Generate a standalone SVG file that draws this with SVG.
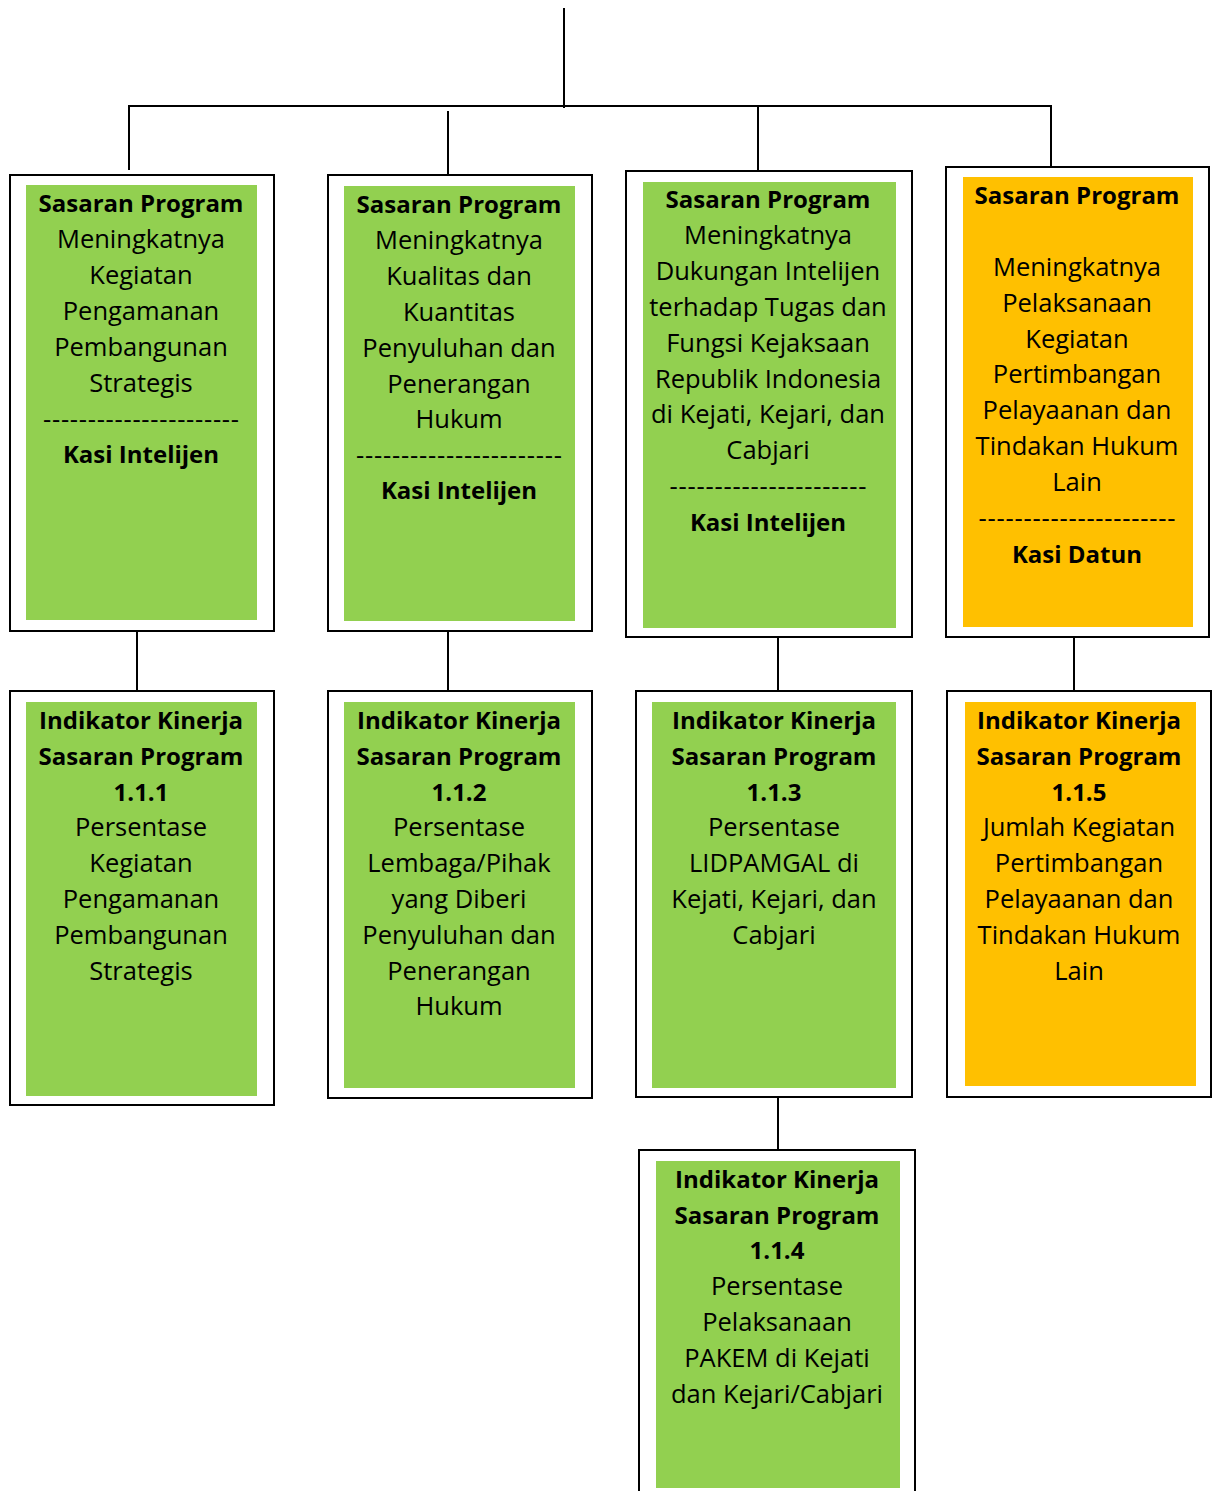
<svg xmlns="http://www.w3.org/2000/svg" width="1212" height="1491" viewBox="0 0 1212 1491">
<style>
.outer{fill:#fff;stroke:#000;stroke-width:2}
.g{fill:#92D050}
.o{fill:#FFC000}
text{font-family:"Open Sans","Noto Sans",sans-serif;font-size:25.5px;fill:#000;text-anchor:middle}
.b{font-weight:bold;font-size:24px}
.conn line{stroke:#000;stroke-width:2}
</style>
<g class="conn" id="connectors">
<line x1="564" y1="8" x2="564" y2="108"/>
<line x1="128" y1="106" x2="1052" y2="106"/>
<line x1="129" y1="106" x2="129" y2="170"/>
<line x1="448" y1="111" x2="448" y2="175"/>
<line x1="758" y1="106" x2="758" y2="171"/>
<line x1="1051" y1="106" x2="1051" y2="166"/>
<line x1="137" y1="631" x2="137" y2="698"/>
<line x1="448" y1="631" x2="448" y2="698"/>
<line x1="778" y1="631" x2="778" y2="698"/>
<line x1="1074" y1="632" x2="1074" y2="699"/>
<line x1="778" y1="1097" x2="778" y2="1150"/>
</g>
<g id="sp1">
<rect class="outer" x="10" y="175" width="264" height="456"/>
<rect class="g" x="26" y="185" width="231" height="435"/>
<text x="141" y="212" class="b">Sasaran Program</text>
<text x="141" y="248">Meningkatnya</text>
<text x="141" y="284">Kegiatan</text>
<text x="141" y="320">Pengamanan</text>
<text x="141" y="356">Pembangunan</text>
<text x="141" y="392">Strategis</text>
<text x="141" y="428" textLength="196" lengthAdjust="spacing">----------------------</text>
<text x="141" y="463" class="b">Kasi Intelijen</text>
</g>
<g id="sp2">
<rect class="outer" x="328" y="175" width="264" height="456"/>
<rect class="g" x="344" y="186" width="231" height="435"/>
<text x="459" y="213" class="b">Sasaran Program</text>
<text x="459" y="249">Meningkatnya</text>
<text x="459" y="285">Kualitas dan</text>
<text x="459" y="321">Kuantitas</text>
<text x="459" y="357">Penyuluhan dan</text>
<text x="459" y="393">Penerangan</text>
<text x="459" y="428">Hukum</text>
<text x="459" y="464" textLength="206" lengthAdjust="spacing">-----------------------</text>
<text x="459" y="499" class="b">Kasi Intelijen</text>
</g>
<g id="sp3">
<rect class="outer" x="626" y="171" width="286" height="466"/>
<rect class="g" x="643" y="182" width="253" height="446"/>
<text x="768" y="208" class="b">Sasaran Program</text>
<text x="768" y="244">Meningkatnya</text>
<text x="768" y="280">Dukungan Intelijen</text>
<text x="768" y="316">terhadap Tugas dan</text>
<text x="768" y="352">Fungsi Kejaksaan</text>
<text x="768" y="388">Republik Indonesia</text>
<text x="768" y="423">di Kejati, Kejari, dan</text>
<text x="768" y="459">Cabjari</text>
<text x="768" y="495" textLength="197" lengthAdjust="spacing">----------------------</text>
<text x="768" y="531" class="b">Kasi Intelijen</text>
</g>
<g id="sp4">
<rect class="outer" x="946" y="167" width="263" height="470"/>
<rect class="o" x="963" y="177" width="230" height="450"/>
<text x="1077" y="204" class="b">Sasaran Program</text>
<text x="1077" y="276">Meningkatnya</text>
<text x="1077" y="312">Pelaksanaan</text>
<text x="1077" y="348">Kegiatan</text>
<text x="1077" y="383">Pertimbangan</text>
<text x="1077" y="419">Pelayaanan dan</text>
<text x="1077" y="455">Tindakan Hukum</text>
<text x="1077" y="491">Lain</text>
<text x="1077" y="527" textLength="197" lengthAdjust="spacing">----------------------</text>
<text x="1077" y="563" class="b">Kasi Datun</text>
</g>
<g id="ik111">
<rect class="outer" x="10" y="691" width="264" height="414"/>
<rect class="g" x="26" y="702" width="231" height="394"/>
<text x="141" y="729" class="b">Indikator Kinerja</text>
<text x="141" y="765" class="b">Sasaran Program</text>
<text x="141" y="801" class="b">1.1.1</text>
<text x="141" y="836">Persentase</text>
<text x="141" y="872">Kegiatan</text>
<text x="141" y="908">Pengamanan</text>
<text x="141" y="944">Pembangunan</text>
<text x="141" y="980">Strategis</text>
</g>
<g id="ik112">
<rect class="outer" x="328" y="691" width="264" height="407"/>
<rect class="g" x="344" y="702" width="231" height="386"/>
<text x="459" y="729" class="b">Indikator Kinerja</text>
<text x="459" y="765" class="b">Sasaran Program</text>
<text x="459" y="801" class="b">1.1.2</text>
<text x="459" y="836">Persentase</text>
<text x="459" y="872">Lembaga/Pihak</text>
<text x="459" y="908">yang Diberi</text>
<text x="459" y="944">Penyuluhan dan</text>
<text x="459" y="980">Penerangan</text>
<text x="459" y="1015">Hukum</text>
</g>
<g id="ik113">
<rect class="outer" x="636" y="691" width="276" height="406"/>
<rect class="g" x="652" y="702" width="244" height="386"/>
<text x="774" y="729" class="b">Indikator Kinerja</text>
<text x="774" y="765" class="b">Sasaran Program</text>
<text x="774" y="801" class="b">1.1.3</text>
<text x="774" y="836">Persentase</text>
<text x="774" y="872">LIDPAMGAL di</text>
<text x="774" y="908">Kejati, Kejari, dan</text>
<text x="774" y="944">Cabjari</text>
</g>
<g id="ik115">
<rect class="outer" x="947" y="691" width="264" height="406"/>
<rect class="o" x="965" y="702" width="231" height="384"/>
<text x="1079" y="729" class="b">Indikator Kinerja</text>
<text x="1079" y="765" class="b">Sasaran Program</text>
<text x="1079" y="801" class="b">1.1.5</text>
<text x="1079" y="836">Jumlah Kegiatan</text>
<text x="1079" y="872">Pertimbangan</text>
<text x="1079" y="908">Pelayaanan dan</text>
<text x="1079" y="944">Tindakan Hukum</text>
<text x="1079" y="980">Lain</text>
</g>
<g id="ik114">
<rect class="outer" x="639" y="1150" width="276" height="360"/>
<rect class="g" x="656" y="1161" width="244" height="327"/>
<text x="777" y="1188" class="b">Indikator Kinerja</text>
<text x="777" y="1224" class="b">Sasaran Program</text>
<text x="777" y="1259" class="b">1.1.4</text>
<text x="777" y="1295">Persentase</text>
<text x="777" y="1331">Pelaksanaan</text>
<text x="777" y="1367">PAKEM di Kejati</text>
<text x="777" y="1403">dan Kejari/Cabjari</text>
</g>
</svg>
